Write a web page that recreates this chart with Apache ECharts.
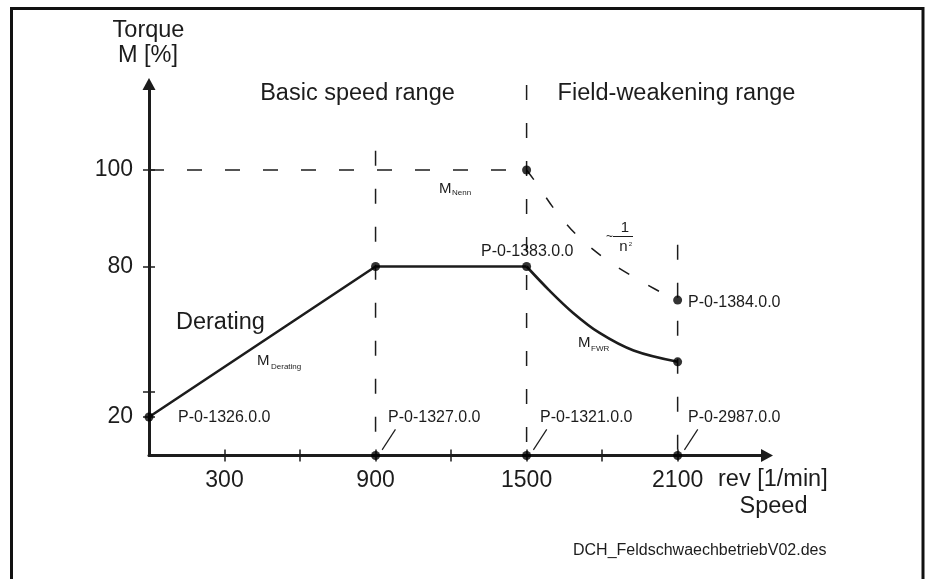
<!DOCTYPE html>
<html><head><meta charset="utf-8">
<script src="https://cdn.jsdelivr.net/npm/echarts@6/dist/echarts.min.js"></script>
<style>html,body{margin:0;padding:0;background:#fff}#c{width:931px;height:579px}</style>
</head><body><div id="c"></div>
<script>
// ---- data ----
const speedTicks = [300, 600, 900, 1200, 1500, 1800, 2100];
const speedLabels = [300, 900, 1500, 2100];
const torqueTicks = [20, 30, 80, 100];
const torqueLabels = [20, 80, 100];

const deratingSpeed = [0, 900, 1500];
const deratingTorque = [20, 80, 80];
const fwrSpeed = [1500, 1590, 1685, 1790, 1925, 2100];
const fwrTorque = [80, 70.5, 61.5, 53.5, 46.5, 42];
const nennSpeed = [1500, 1540, 1610, 1705, 1825, 1950, 2070, 2100];
const nennTorque = [100, 97.2, 91.9, 86.2, 81.1, 74.4, 67.8, 66.6];
const ratedSpeed = [0, 1500];
const ratedTorque = [100, 100];
const guideSpeed = [900, 1500, 2100];
const guideTop = [104, 117.6, 84.5];
const pointSpeed = [0, 900, 1500, 1500, 2100, 2100, 900, 1500, 2100];
const pointTorque = [20, 80, 80, 100, 66.6, 42, 0, 0, 0];
const leaderFrom = [[926, 2.9], [1527, 2.9], [2127, 2.9]];
const leaderTo = [[979, 13.6], [1580, 13.6], [2180, 13.6]];

// ---- schematic (broken) torque scale: torque -> axis units ----
const T_ANCH = [0, 20, 80, 100];
const D_ANCH = [0, 38.5, 189, 285.5];
function toAxis(t) {
  let i = 1;
  while (i < T_ANCH.length - 1 && t > T_ANCH[i]) i++;
  const t0 = T_ANCH[i - 1], t1 = T_ANCH[i], d0 = D_ANCH[i - 1], d1 = D_ANCH[i];
  return d0 + (t - t0) * (d1 - d0) / (t1 - t0);
}
function fromAxis(d) {
  let i = 1;
  while (i < D_ANCH.length - 1 && d > D_ANCH[i]) i++;
  const t0 = T_ANCH[i - 1], t1 = T_ANCH[i], d0 = D_ANCH[i - 1], d1 = D_ANCH[i];
  return t0 + (d - d0) * (t1 - t0) / (d1 - d0);
}
const pts = (xs, ys) => xs.map((x, i) => [x, toAxis(ys[i])]);

const FONT = '"Liberation Sans", Arial, Helvetica, sans-serif';
const INK = '#1c1c1c';
const DASH = [15, 23];

const chart = echarts.init(document.getElementById('c'), null, {renderer: 'canvas'});

const xBase = {type: 'value', min: 0, max: 2455, position: 'bottom', splitLine: {show: false}};
const yBase = {type: 'value', min: 0, max: 371.5, position: 'left', splitLine: {show: false}};

const series = [];
guideSpeed.forEach((s, i) => {
  series.push({type: 'line', symbol: 'none', silent: true,
    data: pts([s, s], [guideTop[i], 0]),
    lineStyle: {color: INK, width: 1.5, type: DASH}});
});
series.push({type: 'line', symbol: 'none', silent: true,
  data: pts(ratedSpeed, ratedTorque), lineStyle: {color: INK, width: 1.5, type: DASH}});
series.push({type: 'line', symbol: 'none', silent: true, smooth: 0.3,
  data: pts(nennSpeed, nennTorque), lineStyle: {color: INK, width: 1.5, type: [12, 22]}});
series.push({type: 'line', symbol: 'none', silent: true,
  data: pts(deratingSpeed, deratingTorque), lineStyle: {color: INK, width: 2.6}});
series.push({type: 'line', symbol: 'none', silent: true, smooth: 0.35,
  data: pts(fwrSpeed, fwrTorque), lineStyle: {color: INK, width: 2.6}});
leaderFrom.forEach((p, i) => {
  series.push({type: 'line', symbol: 'none', silent: true,
    data: [[p[0], toAxis(p[1])], [leaderTo[i][0], toAxis(leaderTo[i][1])]],
    lineStyle: {color: INK, width: 1.2}});
});
series.push({type: 'scatter', symbol: 'circle', symbolSize: 9, silent: true,
  data: pts(pointSpeed, pointTorque), itemStyle: {color: '#000'}, z: 5});

const txt = (text, x, y, size, align, extra) => Object.assign({
  type: 'text', silent: true,
  style: {text, x, y, font: size + 'px ' + FONT, fill: INK, align: align || 'left', verticalAlign: 'middle'}
}, extra || {});

chart.setOption({
  animation: false,
  backgroundColor: '#fff',
  grid: {left: 149, top: 84, width: 618, height: 371.5, containLabel: false},
  xAxis: [
    Object.assign({}, xBase, {
      axisLine: {show: true, lineStyle: {color: INK, width: 3}, symbol: ['none', 'triangle'], symbolSize: [13, 12]},
      axisTick: {show: true, customValues: speedTicks, length: 6, lineStyle: {color: INK, width: 1.5}},
      axisLabel: {customValues: speedLabels, margin: 14, fontSize: 23, color: INK, fontFamily: FONT,
        formatter: v => String(v)}
    }),
    Object.assign({}, xBase, {
      axisLine: {show: false},
      axisTick: {show: true, inside: true, customValues: speedTicks, length: 6, lineStyle: {color: INK, width: 1.5}},
      axisLabel: {show: false}
    })
  ],
  yAxis: [
    Object.assign({}, yBase, {
      axisLine: {show: true, lineStyle: {color: INK, width: 3}, symbol: ['none', 'triangle'], symbolSize: [13, 12]},
      axisTick: {show: true, customValues: torqueTicks.map(toAxis), length: 6, lineStyle: {color: INK, width: 1.5}},
      axisLabel: {customValues: torqueLabels.map(toAxis), margin: 16, fontSize: 23, color: INK, fontFamily: FONT,
        formatter: v => String(Math.round(fromAxis(v)))}
    }),
    Object.assign({}, yBase, {
      axisLine: {show: false},
      axisTick: {show: true, inside: true, customValues: torqueTicks.map(toAxis), length: 6, lineStyle: {color: INK, width: 1.5}},
      axisLabel: {show: false}
    })
  ],
  series: series,
  graphic: [
    {type: 'polyline', silent: true, shape: {points: [[11.5, 579], [11.5, 8.5], [923, 8.5], [923, 579]]},
      style: {stroke: '#111', lineWidth: 3, fill: null}},
    txt('Torque', 148.5, 31, 23.5, 'center'),
    txt('M [%]', 148, 56, 23.5, 'center'),
    txt('Basic speed range', 357.5, 94, 23.5, 'center'),
    txt('Field-weakening range', 676.5, 94, 23.5, 'center'),
    txt('Derating', 176, 323, 23.5, 'left'),
    txt('rev [1/min]', 718, 480, 23.5, 'left'),
    txt('Speed', 773.5, 507, 23.5, 'center'),
    txt('DCH_FeldschwaechbetriebV02.des', 573, 551, 16, 'left'),
    txt('P-0-1326.0.0', 178, 417.5, 16, 'left'),
    txt('P-0-1327.0.0', 388, 417.5, 16, 'left'),
    txt('P-0-1321.0.0', 540, 417.5, 16, 'left'),
    txt('P-0-2987.0.0', 688, 417.5, 16, 'left'),
    txt('P-0-1383.0.0', 481, 251.5, 16, 'left'),
    txt('P-0-1384.0.0', 688, 302.5, 16, 'left'),
    txt('M', 439, 188.5, 15, 'left'),
    txt('Nenn', 452, 192.5, 8, 'left'),
    txt('M', 257, 360.5, 15, 'left'),
    txt('Derating', 271, 367, 8, 'left'),
    txt('M', 578, 343, 15, 'left'),
    txt('FWR', 591, 348.5, 8, 'left'),
    txt('~', 609.5, 237, 12, 'center'),
    txt('1', 625, 228, 15, 'center'),
    {type: 'line', silent: true, shape: {x1: 613, y1: 236.5, x2: 633, y2: 236.5}, style: {stroke: INK, lineWidth: 1}},
    txt('n', 623.5, 246.5, 15, 'center'),
    txt('2', 630.5, 244.5, 6, 'center')
  ]
});
</script></body></html>
